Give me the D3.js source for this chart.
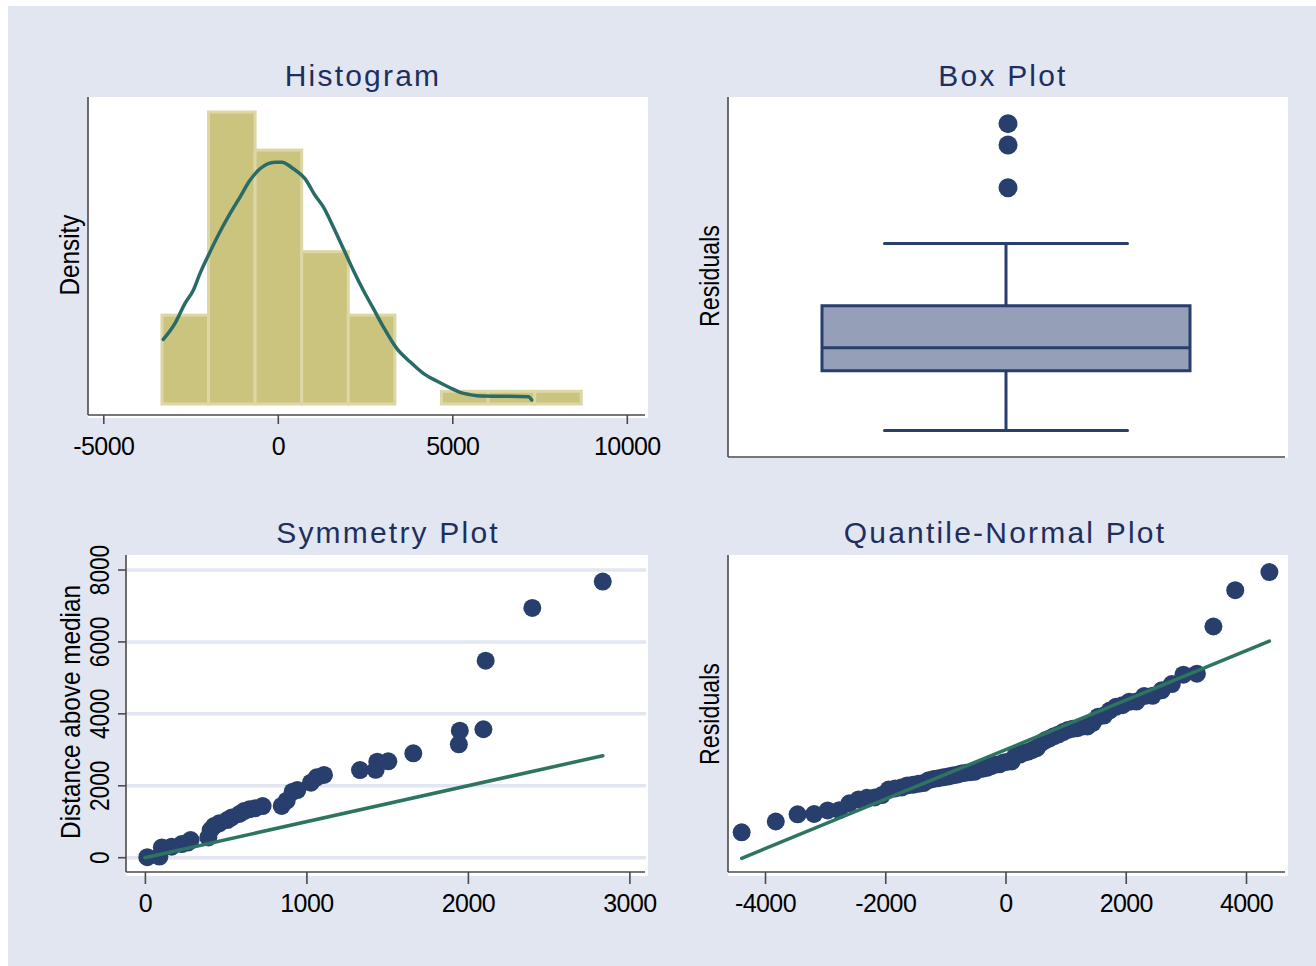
<!DOCTYPE html>
<html>
<head>
<meta charset="utf-8">
<script src="https://cdn.jsdelivr.net/npm/d3@7"></script>
<style>
  html, body { margin: 0; padding: 0; background: #ffffff; }
  svg { display: block; }
</style>
</head>
<body>
<svg id="chart" width="1316" height="966"></svg>
<script>
// ---------- data ----------
// Histogram of residuals: first bin edge, bin width and counts per bin
const histStart = -3320;
const histBinWidth = 1335;
const histCounts = [7, 23, 20, 12, 7, 0, 1, 1, 1];

// Kernel density of the residuals (x, density in units of 1e-5)
const kdeX = [-3281, -2946, -2659, -2421, -2229, -1943, -1607, -1370, -1083, -797, -510, -80,
              112, 444, 779, 1066, 1304, 1590, 1877, 2163, 2450, 2736, 3023, 3407, 3788,
              4169, 4553, 4934, 5221, 5500, 5699, 7178, 7275];
const kdeY = [5.29, 6.60, 8.24, 9.32, 10.70, 12.46, 14.38, 15.60, 16.96, 18.33, 19.28, 19.82,
              19.82, 19.28, 18.47, 17.10, 16.15, 14.51, 12.74, 10.97, 9.32, 7.83, 6.33, 4.56, 3.46,
              2.51, 1.88, 1.33, 0.96, 0.77, 0.68, 0.59, 0.33];

// Regression residuals (sorted)
const residuals = [
  -3337, -2901, -2612, -2598, -2452, -2446, -2164, -2009, -1941, -1931, -1834, -1611,
  -1566, -1530, -1446, -1417, -1380, -1349, -1231, -1184, -1149, -1116, -1087, -1039,
  -1012, -962, -930, -909, -895, -785, -767, -730, -667, -607, -592, -517,
  -487, -472, -217, -197, -122, -82, -12, 63, 268, 378, 453, 546,
  618, 713, 796, 843, 871, 935, 938, 1084, 1334, 1380, 1584, 1733,
  1798, 1936, 1943, 2168, 2178, 2400, 2652, 3031, 3070, 4978, 6443, 7175
];

// Tick values and titles
const histTicks = [-5000, 0, 5000, 10000];
const symXTicks = [0, 1000, 2000, 3000];
const symYTicks = [0, 2000, 4000, 6000, 8000];
const qnXTicks = [-4000, -2000, 0, 2000, 4000];
const panelTitles = ["Histogram", "Box Plot", "Symmetry Plot", "Quantile-Normal Plot"];
const axisTitles = ["Density", "Residuals", "Distance above median", "Residuals"];

// ---------- style ----------
const FONT = "'Liberation Sans', Arial, Helvetica, sans-serif";
const BG = "#e1e6f0";
const NAVY = "#283f6d";
const TITLE = "#1e2f5d";
const BAR_FILL = "#cbc47f";
const BAR_EDGE = "#dcd7a5";
const BOX_FILL = "#95a0b8";
const KDE_COL = "#2b6b66";
const REF_COL = "#2e7461";
const AXIS_COL = "#4a4a4a";
const MARK_R = 9;

const svg = d3.select("#chart");
svg.append("rect").attr("x", 8).attr("y", 6).attr("width", 1316 - 8).attr("height", 966 - 6).attr("fill", BG);

// plot regions
const P = {
  hist: { x0: 88,  x1: 648,  y0: 97,  y1: 418, ax: 415, axEnd: 645 },
  box:  { x0: 728, x1: 1288, y0: 97,  y1: 458, ax: 457, axEnd: 1285 },
  sym:  { x0: 126, x1: 648,  y0: 555, y1: 876, ax: 872, axEnd: 645 },
  qn:   { x0: 728, x1: 1288, y0: 555, y1: 876, ax: 872, axEnd: 1285 }
};

function plotFrame(p) {
  svg.append("rect").attr("x", p.x0).attr("y", p.y0)
    .attr("width", p.x1 - p.x0).attr("height", p.y1 - p.y0).attr("fill", "#ffffff");
}
function axisLines(p) {
  svg.append("line").attr("x1", p.x0).attr("x2", p.x0).attr("y1", p.y0).attr("y2", p.ax)
    .attr("stroke", AXIS_COL).attr("stroke-width", 1.6);
  svg.append("line").attr("x1", p.x0).attr("x2", p.axEnd).attr("y1", p.ax).attr("y2", p.ax)
    .attr("stroke", AXIS_COL).attr("stroke-width", 1.6);
}
function bottomAxis(p, scale, ticks, tickLen) {
  const ax = d3.axisBottom(scale).tickValues(ticks).tickSize(tickLen)
    .tickPadding(22 - tickLen).tickFormat(d => String(d));
  const g = svg.append("g").attr("transform", `translate(0,${p.ax})`).call(ax);
  g.select(".domain").remove();
  g.attr("font-family", FONT).attr("font-size", 25);
  g.selectAll(".tick line").attr("stroke", AXIS_COL).attr("stroke-width", 1.6);
  g.selectAll(".tick text").attr("fill", "#000").attr("letter-spacing", -0.6);
}
function title(txt, cx, baseY) {
  svg.append("text").attr("x", cx).attr("y", baseY).attr("text-anchor", "middle")
    .attr("font-family", FONT).attr("font-size", 30).attr("letter-spacing", 2.2)
    .attr("fill", TITLE).text(txt);
}
function vText(txt, bx, cy, size, squeeze) {
  svg.append("text").attr("transform", `translate(${bx},${cy}) rotate(-90) scale(${squeeze},1)`)
    .attr("text-anchor", "middle").attr("font-family", FONT).attr("font-size", size)
    .attr("fill", "#000").text(txt);
}

// ---------- Histogram ----------
{
  const p = P.hist;
  plotFrame(p);
  const N = d3.sum(histCounts);
  const bins = histCounts.map((c, i) => ({
    x0: histStart + i * histBinWidth,
    x1: histStart + (i + 1) * histBinWidth,
    density: c / (N * histBinWidth)
  }));
  const x = d3.scaleLinear().domain([-5000, 10000]).range([103.3, 626.8]);
  const y = d3.scaleLinear().domain([0, d3.max(bins, b => b.density)]).range([404, 112]);

  svg.append("g").selectAll("rect").data(bins.filter(b => b.density > 0)).join("rect")
    .attr("x", b => x(b.x0)).attr("width", b => x(b.x1) - x(b.x0))
    .attr("y", b => y(b.density)).attr("height", b => y(0) - y(b.density))
    .attr("fill", BAR_FILL).attr("stroke", BAR_EDGE).attr("stroke-width", 3);

  const kde = kdeX.map((v, i) => [v, kdeY[i] * 1e-5]);
  svg.append("path").datum(kde)
    .attr("d", d3.line().x(d => x(d[0])).y(d => y(d[1])).curve(d3.curveMonotoneX))
    .attr("fill", "none").attr("stroke", KDE_COL).attr("stroke-width", 3.5)
    .attr("stroke-linejoin", "round").attr("stroke-linecap", "round");

  axisLines(p);
  bottomAxis(p, x, histTicks, 9);
  title(panelTitles[0], 363, 86);
  vText(axisTitles[0], 79, 255, 27, 0.9);
}

// shared residual summaries
const sorted = residuals.slice().sort(d3.ascending);
const N = sorted.length;
function pctile(s, q) {
  const np = s.length * q, k = Math.floor(np);
  return np === k ? (s[k - 1] + s[k]) / 2 : s[k];
}
const median = pctile(sorted, 0.5);

// ---------- Box plot ----------
{
  const p = P.box;
  plotFrame(p);
  const y = d3.scaleLinear().domain([-4245, 8088]).range([457, 97]);
  const q1 = pctile(sorted, 0.25), q3 = pctile(sorted, 0.75), iqr = q3 - q1;
  const upperW = d3.max(sorted.filter(v => v <= q3 + 1.5 * iqr));
  const lowerW = d3.min(sorted.filter(v => v >= q1 - 1.5 * iqr));
  const outliers = sorted.filter(v => v > upperW || v < lowerW);
  const cx = 1006, halfBox = 184, halfCap = 121.5;
  const g = svg.append("g").attr("stroke", NAVY).attr("stroke-width", 3);
  g.append("line").attr("x1", cx).attr("x2", cx).attr("y1", y(q3)).attr("y2", y(upperW));
  g.append("line").attr("x1", cx).attr("x2", cx).attr("y1", y(q1)).attr("y2", y(lowerW));
  g.append("line").attr("x1", cx - halfCap).attr("x2", cx + halfCap).attr("y1", y(upperW)).attr("y2", y(upperW)).attr("stroke-linecap", "round");
  g.append("line").attr("x1", cx - halfCap).attr("x2", cx + halfCap).attr("y1", y(lowerW)).attr("y2", y(lowerW)).attr("stroke-linecap", "round");
  g.append("rect").attr("x", cx - halfBox).attr("width", 2 * halfBox)
    .attr("y", y(q3)).attr("height", y(q1) - y(q3)).attr("fill", BOX_FILL);
  g.append("line").attr("x1", cx - halfBox).attr("x2", cx + halfBox).attr("y1", y(median)).attr("y2", y(median));
  svg.append("g").selectAll("circle").data(outliers).join("circle")
    .attr("cx", cx + 2).attr("cy", d => y(d)).attr("r", 9.5).attr("fill", NAVY);
  axisLines(p);
  title(panelTitles[1], 1003, 86);
  vText(axisTitles[1], 719, 276, 27, 0.86);
}

// ---------- Symmetry plot ----------
{
  const p = P.sym;
  plotFrame(p);
  const x = d3.scaleLinear().domain([0, 3000]).range([144.9, 629.4]);
  const y = d3.scaleLinear().domain([0, 8000]).range([857.7, 570]);
  svg.append("g").selectAll("line").data(symYTicks).join("line")
    .attr("x1", p.x0 + 1).attr("x2", p.axEnd + 1).attr("y1", d => y(d)).attr("y2", d => y(d))
    .attr("stroke", BG).attr("stroke-width", 3.5);
  const pairs = d3.range(N / 2).map(i => ({
    below: median - sorted[i],
    above: sorted[N - 1 - i] - median
  }));
  const maxBelow = d3.max(pairs, d => d.below);
  svg.append("g").selectAll("circle").data(pairs).join("circle")
    .attr("cx", d => x(d.below)).attr("cy", d => y(d.above)).attr("r", MARK_R).attr("fill", NAVY);
  svg.append("line").attr("x1", x(0)).attr("y1", y(0)).attr("x2", x(maxBelow)).attr("y2", y(maxBelow))
    .attr("stroke", REF_COL).attr("stroke-width", 3.5).attr("stroke-linecap", "round");
  axisLines(p);
  bottomAxis(p, x, symXTicks, 12);
  // rotated y tick labels
  const gy = svg.append("g");
  symYTicks.forEach(t => {
    gy.append("line").attr("x1", p.x0 - 8).attr("x2", p.x0).attr("y1", y(t)).attr("y2", y(t))
      .attr("stroke", AXIS_COL).attr("stroke-width", 1.6);
    gy.append("text").attr("transform", `translate(109,${y(t)}) rotate(-90) scale(0.84,1)`)
      .attr("text-anchor", "middle").attr("font-family", FONT).attr("font-size", 27)
      .attr("fill", "#000").text(String(t));
  });
  title(panelTitles[2], 388, 543);
  vText(axisTitles[2], 80, 712, 27, 0.9);
}

// ---------- Quantile-normal plot ----------
function invNorm(p) {
  const a = [-3.969683028665376e+01, 2.209460984245205e+02, -2.759285104469687e+02, 1.383577518672690e+02, -3.066479806614716e+01, 2.506628277459239e+00];
  const b = [-5.447609879822406e+01, 1.615858368580409e+02, -1.556989798598866e+02, 6.680131188771972e+01, -1.328068155288572e+01];
  const c = [-7.784894002430293e-03, -3.223964580411365e-01, -2.400758277161838e+00, -2.549732539343734e+00, 4.374664141464968e+00, 2.938163982698783e+00];
  const d = [7.784695709041462e-03, 3.224671290700398e-01, 2.445134137142996e+00, 3.754408661907416e+00];
  const pl = 0.02425;
  let q, r;
  if (p < pl) {
    q = Math.sqrt(-2 * Math.log(p));
    return (((((c[0]*q+c[1])*q+c[2])*q+c[3])*q+c[4])*q+c[5]) / ((((d[0]*q+d[1])*q+d[2])*q+d[3])*q+1);
  }
  if (p <= 1 - pl) {
    q = p - 0.5; r = q * q;
    return (((((a[0]*r+a[1])*r+a[2])*r+a[3])*r+a[4])*r+a[5])*q / (((((b[0]*r+b[1])*r+b[2])*r+b[3])*r+b[4])*r+1);
  }
  q = Math.sqrt(-2 * Math.log(1 - p));
  return -(((((c[0]*q+c[1])*q+c[2])*q+c[3])*q+c[4])*q+c[5]) / ((((d[0]*q+d[1])*q+d[2])*q+d[3])*q+1);
}
{
  const p = P.qn;
  plotFrame(p);
  const x = d3.scaleLinear().domain([-4000, 4000]).range([765, 1246]);
  const y = d3.scaleLinear().domain([-4000, 4000]).range([848.7, 650.7]);
  const mean = d3.mean(sorted), sd = d3.deviation(sorted);
  const pts = sorted.map((v, i) => ({ q: mean + sd * invNorm((i + 1) / (N + 1)), v }));
  svg.append("g").selectAll("circle").data(pts).join("circle")
    .attr("cx", d => x(d.q)).attr("cy", d => y(d.v)).attr("r", MARK_R).attr("fill", NAVY);
  const qLo = pts[0].q, qHi = pts[N - 1].q;
  svg.append("line").attr("x1", x(qLo)).attr("y1", y(qLo)).attr("x2", x(qHi)).attr("y2", y(qHi))
    .attr("stroke", REF_COL).attr("stroke-width", 3.5).attr("stroke-linecap", "round");
  axisLines(p);
  bottomAxis(p, x, qnXTicks, 12);
  title(panelTitles[3], 1005, 543);
  vText(axisTitles[3], 719, 714, 27, 0.86);
}
</script>
</body>
</html>
